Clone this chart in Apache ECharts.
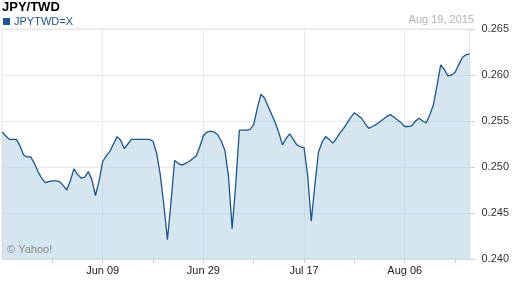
<!DOCTYPE html>
<html><head><meta charset="utf-8">
<script src="https://cdn.jsdelivr.net/npm/echarts/dist/echarts.min.js"></script>
<style>html,body{margin:0;padding:0;background:#fff}#c{width:512px;height:288px}</style>
</head><body><div id="c"></div>
<script>
const tradingDays = ['May 20','May 21','May 22','May 25','May 26','May 27','May 28','May 29',
 'Jun 01','Jun 02','Jun 03','Jun 04','Jun 05','Jun 08','Jun 09','Jun 10','Jun 11','Jun 12',
 'Jun 15','Jun 16','Jun 17','Jun 18','Jun 19','Jun 22','Jun 23','Jun 24','Jun 25','Jun 26',
 'Jun 29','Jun 30','Jul 01','Jul 02','Jul 03','Jul 06','Jul 07','Jul 08','Jul 09','Jul 10',
 'Jul 13','Jul 14','Jul 15','Jul 16','Jul 17','Jul 20','Jul 21','Jul 22','Jul 23','Jul 24',
 'Jul 27','Jul 28','Jul 29','Jul 30','Jul 31','Aug 03','Aug 04','Aug 05','Aug 06','Aug 07',
 'Aug 10','Aug 11','Aug 12','Aug 13','Aug 14','Aug 17','Aug 18','Aug 19'];
const xTickLabels = ['Jun 09','Jun 29','Jul 17','Aug 06'];
// two readings per trading day (first and second half of day)
const rates = [
 0.2538,0.2534,0.2530,0.2530,0.2530,0.2523,0.2513,0.2511,0.2511,0.2504,
 0.2495,0.2488,0.2483,0.2484,0.2485,0.2485,0.2484,0.2480,0.2475,0.2485,
 0.2498,0.2492,0.2488,0.2489,0.2495,0.2486,0.2469,0.2485,0.2506,0.2512,
 0.2517,0.2525,0.2533,0.2529,0.2520,0.2525,0.2530,0.2530,0.2530,0.2530,
 0.2530,0.2530,0.2528,0.2515,0.2492,0.2459,0.2421,0.2462,0.2507,0.2504,
 0.2502,0.2504,0.2506,0.2509,0.2512,0.2522,0.2534,0.2538,0.2539,0.2538,
 0.2535,0.2528,0.2518,0.2489,0.2433,0.2481,0.2540,0.2540,0.2540,0.2541,
 0.2546,0.2564,0.2579,0.2575,0.2566,0.2557,0.2548,0.2537,0.2524,0.2531,
 0.2536,0.2530,0.2524,0.2522,0.2521,0.2491,0.2441,0.2480,0.2516,0.2527,
 0.2533,0.2530,0.2526,0.2531,0.2537,0.2542,0.2548,0.2554,0.2559,0.2556,
 0.2553,0.2547,0.2542,0.2544,0.2546,0.2549,0.2552,0.2555,0.2557,0.2554,
 0.2551,0.2548,0.2544,0.2544,0.2545,0.2550,0.2553,0.2550,0.2548,0.2557,
 0.2568,0.2589,0.2611,0.2606,0.2599,0.2600,0.2603,0.2611,0.2619,0.2622,
 0.2623];
const yMin = 0.240, yMax = 0.265, yStep = 0.005;

const categories = [];
tradingDays.forEach((d, i) => {
  categories.push(d + '|a');
  if (i < tradingDays.length - 1) categories.push(d + '|b');
});
const isLabelCat = v => { const p = v.split('|'); return p[1] === 'a' && xTickLabels.includes(p[0]); };

const FONT = "'Liberation Sans', Arial, sans-serif";
const chart = echarts.init(document.getElementById('c'), null, {renderer: 'canvas'});
chart.setOption({
  animation: false,
  backgroundColor: '#fff',
  title: [
    {text: 'JPY/TWD', left: 2, top: 1, padding: 0,
     textStyle: {fontFamily: FONT, fontSize: 13, fontWeight: 'bold', color: '#000'}},
    {text: 'Aug 19, 2015', right: 38, top: 14, padding: 0,
     textStyle: {fontFamily: FONT, fontSize: 11, fontWeight: 'normal', color: '#b3b3b3'}},
    {text: '© Yahoo!', left: 7, top: 244, padding: 0,
     textStyle: {fontFamily: FONT, fontSize: 11, fontWeight: 'normal', color: '#888'}}
  ],
  legend: {
    data: ['JPYTWD=X'], left: 3, top: 16, padding: 0, icon: 'rect',
    itemWidth: 7, itemHeight: 7, selectedMode: false,
    textStyle: {fontFamily: FONT, fontSize: 11, color: '#1d5590', padding: [0,0,0,-1]}
  },
  grid: {left: 2, right: 41, top: 29, bottom: 29, show: true, borderColor: '#e2e2e2', borderWidth: 1},
  xAxis: {
    type: 'category', data: categories, boundaryGap: false,
    axisLine: {show: true, lineStyle: {color: '#dddddd'}},
    axisTick: {show: true, length: 4, lineStyle: {color: '#cccccc'},
      interval: (idx) => idx > 0 && idx % 14 === 0},
    axisLabel: {interval: (idx, v) => isLabelCat(v), formatter: v => v.split('|')[0],
      margin: 6, color: '#222', fontFamily: FONT, fontSize: 11},
    splitLine: {show: true, interval: (idx, v) => isLabelCat(v), lineStyle: {color: '#e6e8ec'}}
  },
  yAxis: {
    type: 'value', position: 'right', min: yMin, max: yMax, interval: yStep,
    axisLine: {show: true, lineStyle: {color: '#dddddd'}},
    axisTick: {show: true, length: 5, lineStyle: {color: '#cccccc'}},
    axisLabel: {formatter: v => v.toFixed(3), margin: 12, color: '#333', fontFamily: FONT, fontSize: 11},
    splitLine: {show: true, lineStyle: {color: '#e6e8ec'}}
  },
  series: [{
    name: 'JPYTWD=X', type: 'line', data: rates, symbol: 'none', smooth: false,
    itemStyle: {color: '#1d5590'},
    lineStyle: {color: '#1d5590', width: 1.3},
    areaStyle: {color: 'rgba(173,205,227,0.5)', opacity: 1, origin: 'start'}
  }]
});
</script></body></html>
